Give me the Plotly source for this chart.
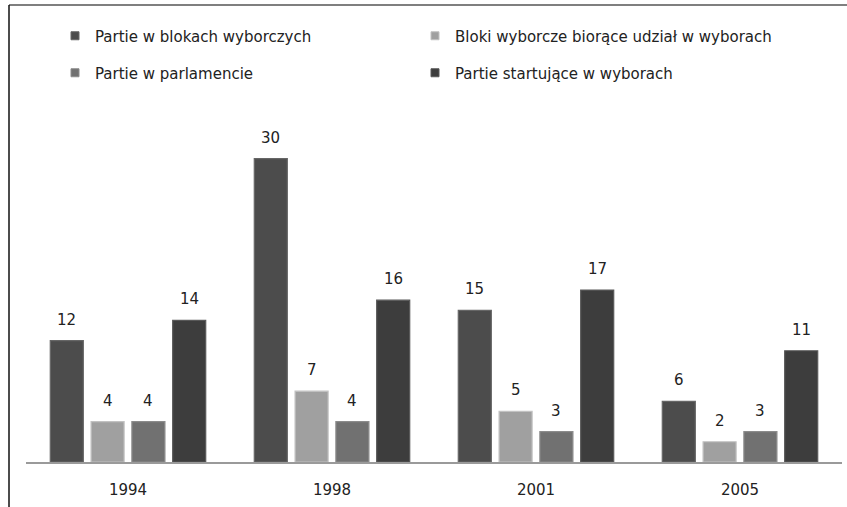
import plotly.graph_objects as go

years = ["1994", "1998", "2001", "2005"]
series_names = [
    "Partie w blokach wyborczych",
    "Bloki wyborcze biorące udział w wyborach",
    "Partie w parlamencie",
    "Partie startujące w wyborach",
]
partie_w_blokach = [12, 30, 15, 6]
bloki_wyborcze = [4, 7, 5, 2]
partie_w_parlamencie = [4, 4, 3, 3]
partie_startujace = [14, 16, 17, 11]

values = [partie_w_blokach, bloki_wyborcze, partie_w_parlamencie, partie_startujace]
colors = ["#4c4c4c", "#a0a0a0", "#717171", "#3d3d3d"]
line_colors = ["#666666", "#c2c2c2", "#8c8c8c", "#585858"]
legend_ids = ["legend", "legend", "legend2", "legend2"]

W, H = 847, 507
ml, mr, mt, mb = 26, 5, 108, 45
pw = W - ml - mr
ph = H - mt - mb
bargap = 0.2
bargroupgap = 0.19
n_series = len(values)
slot = pw / len(years) * (1 - bargap) / n_series

FONT = "DejaVu Sans"

fig = go.Figure()
annotations = []
for j, (name, vals, c, lc, lg) in enumerate(zip(series_names, values, colors, line_colors, legend_ids)):
    fig.add_trace(go.Bar(
        x=years, y=vals, name=name, showlegend=False, hoverinfo="skip",
        marker=dict(color=c, line=dict(color=lc, width=1.2)),
    ))
    # legend proxy with small square symbol
    fig.add_trace(go.Scatter(
        x=[years[0]], y=[None], mode="markers", name=name, legend=lg,
        hoverinfo="skip",
        marker=dict(symbol="square", size=8, color=c, line=dict(color=lc, width=1)),
    ))
    for i, v in enumerate(vals):
        annotations.append(dict(
            x=i, y=v, xref="x", yref="y", text=str(v), showarrow=False,
            xshift=(j - (n_series - 1) / 2) * slot, yshift=21,
            yanchor="middle", xanchor="center",
            font=dict(family=FONT, size=15, color="#222"),
        ))


def px_x(p):
    return (p - ml) / pw


def px_y(p):
    return (H - mb - p) / ph


legend_common = dict(
    orientation="h", xref="container", yref="container",
    xanchor="left", yanchor="middle",
    entrywidth=315, entrywidthmode="pixels",
    font=dict(family=FONT, size=15, color="#222"),
    itemclick=False, bgcolor="rgba(0,0,0,0)",
)

fig.update_layout(
    width=W, height=H,
    margin=dict(l=ml, r=mr, t=mt, b=mb),
    paper_bgcolor="white", plot_bgcolor="white",
    barmode="group", bargap=bargap, bargroupgap=bargroupgap,
    font=dict(family=FONT, size=15, color="#222"),
    legend=dict(x=55 / W, y=1 - 36 / H, **legend_common),
    legend2=dict(x=55 / W, y=1 - 73 / H, **legend_common),
    xaxis=dict(
        type="category", categoryorder="array", categoryarray=years,
        range=[-0.5, len(years) - 0.5],
        showline=True, linecolor="#9a9a9a", linewidth=1.5,
        ticks="", ticklabelstandoff=13,
        tickfont=dict(family=FONT, size=15, color="#222"),
        showgrid=False, fixedrange=True, zeroline=False,
    ),
    yaxis=dict(range=[0, 35], visible=False, showgrid=False, fixedrange=True),
    annotations=annotations,
    shapes=[
        dict(type="line", xref="paper", yref="paper",
             x0=px_x(9), x1=px_x(W + 5), y0=px_y(5), y1=px_y(5),
             line=dict(color="#555", width=1.5)),
        dict(type="line", xref="paper", yref="paper",
             x0=px_x(9), x1=px_x(9), y0=px_y(5), y1=px_y(H + 5),
             line=dict(color="#111", width=1.5)),
    ],
)

fig.write_html(
    "out.html",
    config={"displayModeBar": False},
    post_script="document.body.style.margin='0';document.body.style.overflow='hidden';",
)
